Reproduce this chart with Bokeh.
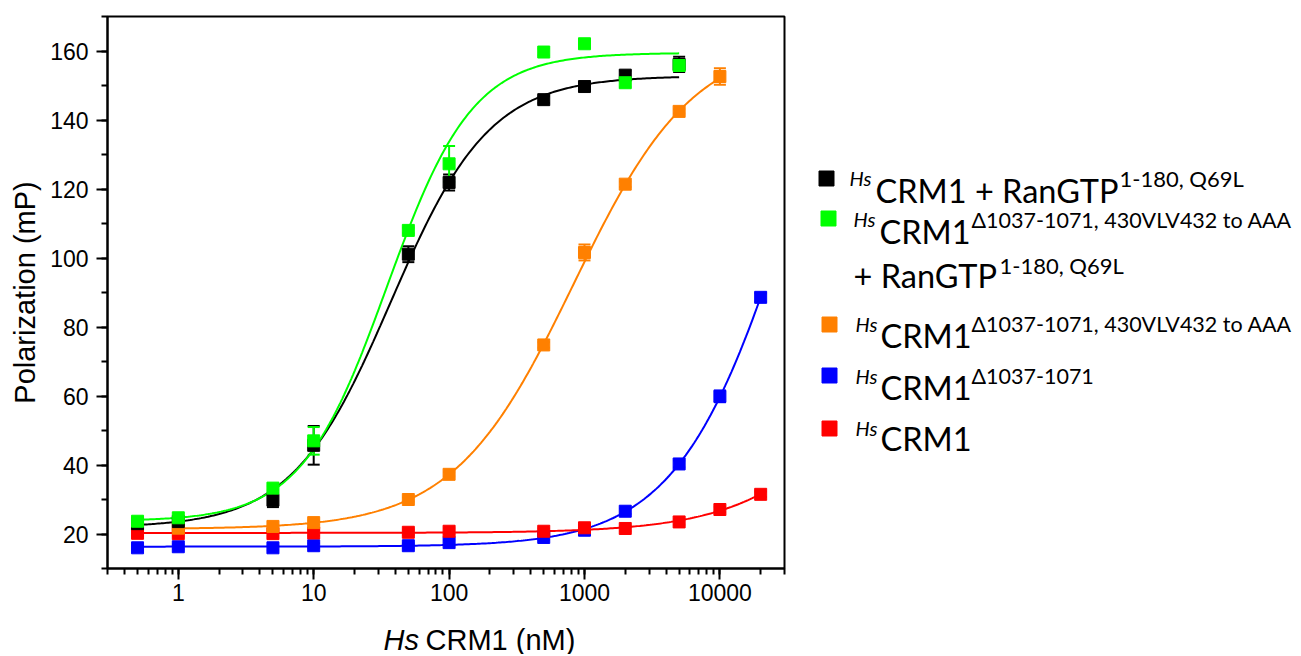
import numpy as np
from bokeh.plotting import figure
from bokeh.models import (Range1d, LogTicker, NumeralTickFormatter, SingleIntervalTicker,
                          Whisker, TeeHead, ColumnDataSource)
from bokeh.layouts import row, column
from bokeh.embed import file_html
from bokeh.resources import INLINE
from bokeh.core.properties import value

# ---------------- data ----------------
black_x = [0.5, 1, 5, 10, 50, 100, 500, 1000, 2000, 5000]
black_y = [23.0, 23.6, 29.8, 45.7, 101.1, 121.9, 145.9, 149.7, 153.0, 156.1]
black_err = [0.8, 0.8, 2.0, 5.6, 2.3, 2.3, 1.0, 1.0, 1.3, 2.2]

green_x = [0.5, 1, 5, 10, 50, 100, 500, 1000, 2000, 5000]
green_y = [23.7, 24.7, 33.3, 47.0, 108.0, 127.3, 159.7, 162.1, 150.8, 155.8]
green_err = [0.5, 0.5, 0.6, 4.0, 0.8, 5.2, 1.0, 1.0, 1.2, 1.5]

orange_x = [1, 5, 10, 50, 100, 500, 1000, 2000, 5000, 10000]
orange_y = [21.7, 22.2, 23.3, 30.0, 37.3, 74.8, 101.6, 121.4, 142.5, 152.6]
orange_err = [0.5, 0.5, 0.6, 0.6, 0.6, 0.8, 2.3, 0.8, 0.6, 2.4]

blue_x = [0.5, 1, 5, 10, 50, 100, 500, 1000, 2000, 5000, 10000, 20000]
blue_y = [16.0, 16.3, 16.0, 16.6, 16.6, 17.5, 19.0, 21.1, 26.6, 40.3, 59.9, 88.6]
blue_err = [0.7, 0.7, 0.7, 0.7, 0.7, 0.7, 0.7, 0.7, 0.8, 1.0, 1.7, 1.2]

red_x = [0.5, 1, 5, 10, 50, 100, 500, 1000, 2000, 5000, 10000, 20000]
red_y = [20.2, 20.1, 20.1, 20.3, 20.5, 20.8, 20.8, 21.8, 21.6, 23.5, 27.1, 31.5]
red_err = [0.8, 0.8, 0.8, 0.8, 0.8, 0.8, 0.8, 0.8, 0.8, 0.8, 0.8, 0.8]

series_names = ["black", "green", "orange", "blue", "red"]
series_colors = ["#000000", "#00FF00", "#FF8000", "#0000FF", "#FF0000"]

y_ticks_interval = 20
x_title_italic = "Hs"
x_title_rest = "CRM1 (nM)"
y_title = "Polarization (mP)"

# legend texts
legend_hs = "Hs"
legend_main = ["CRM1 + RanGTP", "CRM1", "CRM1", "CRM1", "CRM1"]
legend_sup = ["1-180, Q69L", "\u03941037-1071, 430VLV432 to AAA",
              "\u03941037-1071, 430VLV432 to AAA", "\u03941037-1071", ""]
legend_extra_main = "+ RanGTP"
legend_extra_sup = "1-180, Q69L"

data = {
    "black": (black_x, black_y, black_err),
    "green": (green_x, green_y, green_err),
    "orange": (orange_x, orange_y, orange_err),
    "blue": (blue_x, blue_y, blue_err),
    "red": (red_x, red_y, red_err),
}


def fit4pl(x, y, err):
    """Weighted (1/err^2) least-squares 4-parameter logistic fit: grid over
    EC50 & Hill slope, linear solve for bottom / span."""
    lx = np.log10(np.asarray(x, float))
    y = np.asarray(y, float)
    w = 1.0 / np.asarray(err, float) ** 2
    w = w / w.sum()
    lec = np.arange(-1.0, 7.0, 0.01)
    best = None
    for h in np.arange(0.3, 3.0, 0.01):
        s = 1.0 / (1.0 + 10.0 ** (h * (lec[:, None] - lx[None, :])))
        sm = (s * w).sum(1)
        ym = (y * w).sum()
        sc = s - sm[:, None]
        var = (w * sc ** 2).sum(1)
        d = (w * sc * (y - ym)).sum(1) / np.where(var > 0, var, 1.0)
        b = ym - d * sm
        res = (w * (b[:, None] + d[:, None] * s - y) ** 2).sum(1)
        i = int(np.argmin(res))
        if best is None or res[i] < best[0]:
            best = (res[i], b[i], d[i], lec[i], h)
    _, b, d, le, h = best
    xs = np.logspace(lx.min(), lx.max(), 300)
    ys = b + d / (1.0 + 10.0 ** (h * (le - np.log10(xs))))
    return xs, ys


FONT = "Liberation Sans"
W_MAIN, H_MAIN = 800, 612
BL, BR, BT, BB = 107, 16, 16, 44

p = figure(width=W_MAIN, height=H_MAIN, x_axis_type="log", title=None,
           x_range=Range1d(0.3, 30000), y_range=Range1d(10, 170),
           output_backend="svg", toolbar_location=None,
           min_border_left=BL, min_border_right=BR,
           min_border_top=BT, min_border_bottom=BB)
p.xgrid.visible = False
p.ygrid.visible = False
p.outline_line_color = "black"
p.outline_line_width = 2
p.background_fill_color = "white"
p.border_fill_color = "white"

p.xaxis.ticker = LogTicker(num_minor_ticks=10)
p.xaxis.formatter = NumeralTickFormatter(format="0")
p.yaxis.ticker = SingleIntervalTicker(interval=y_ticks_interval, num_minor_ticks=2)
for ax in (p.xaxis[0], p.yaxis[0]):
    ax.axis_line_width = 2
    ax.major_tick_line_width = 2
    ax.minor_tick_line_width = 2
    ax.major_tick_out = 11
    ax.major_tick_in = 0
    ax.minor_tick_out = 6
    ax.minor_tick_in = 0
    ax.major_label_text_font = FONT
    ax.major_label_text_font_size = "23px"
    ax.major_label_text_color = "black"
    ax.axis_label_text_font = FONT
    ax.axis_label_text_font_style = "normal"
    ax.axis_label_text_font_size = "29px"
    ax.axis_label_text_color = "black"
p.yaxis.major_label_standoff = 8
p.xaxis.major_label_standoff = 4
p.yaxis.axis_label = y_title
p.yaxis.axis_label_standoff = 6

# fitted curves
for name, col in zip(series_names, series_colors):
    x, y, e = data[name]
    xs, ys = fit4pl(x, y, e)
    p.line(xs, ys, line_color=col, line_width=2)

# error bars and markers
draw_order = ["blue", "red", "orange", "black", "green"]
for name in draw_order:
    col = series_colors[series_names.index(name)]
    x, y, e = data[name]
    y = np.asarray(y)
    e = np.asarray(e)
    src = ColumnDataSource(dict(x=x, y=y, lo=y - e, hi=y + e))
    wk = Whisker(base="x", upper="hi", lower="lo", source=src, dimension="height",
                 line_color=col, line_width=2,
                 upper_head=TeeHead(size=12, line_color=col, line_width=2),
                 lower_head=TeeHead(size=12, line_color=col, line_width=2))
    p.add_layout(wk)
    p.scatter("x", "y", source=src, marker="square", size=12,
              fill_color=col, line_color=col)

# ---------------- legend panel (data units = page pixels) ----------------
LF = "Lato"
W_LEG = 500
lg = figure(width=W_LEG, height=H_MAIN, title=None,
            x_range=Range1d(W_MAIN, W_MAIN + W_LEG), y_range=Range1d(H_MAIN - BB, BT),
            output_backend="svg", toolbar_location=None,
            min_border_left=0, min_border_right=0, min_border_top=BT, min_border_bottom=BB,
            x_axis_location=None, y_axis_location=None)
lg.grid.visible = False
lg.outline_line_color = None

sq_x = [826, 828, 829, 829, 829]
sq_y = [178, 218, 324, 375, 428]
lg.scatter(sq_x, sq_y, marker="square", size=15, fill_color=series_colors,
           line_color=series_colors)

hs_x = [849, 853, 855, 855, 855]
hs_y = [177, 218, 323, 375, 427]
main_x = [875, 879, 880, 880, 880]
main_y = [190, 231, 335, 387, 438]
sup_x = [1119, 971, 971, 971, 971]
sup_y = [178, 219, 323, 375, 427]
sup_size = ["22px", "21.5px", "21.5px", "21.5px", "21.5px"]

lg.text(hs_x, hs_y, text=[legend_hs] * 5, text_font=value(LF), text_font_style="italic",
        text_font_size="20px", text_baseline="alphabetic", text_color="black")
lg.text(main_x, main_y, text=legend_main, text_font=value(LF),
        text_font_size="32.5px", text_baseline="alphabetic", text_color="black")
lg.text(sup_x, sup_y, text=legend_sup, text_font=value(LF),
        text_font_size=sup_size, text_baseline="alphabetic", text_color="black")
lg.text([853], [275], text=[legend_extra_main], text_font=value(LF),
        text_font_size="32.5px", text_baseline="alphabetic", text_color="black")
lg.text([999], [265], text=[legend_extra_sup], text_font=value(LF),
        text_font_size="22px", text_baseline="alphabetic", text_color="black")

# ---------------- x-axis title strip ----------------
H_T = 42
tf = figure(width=W_MAIN, height=H_T, title=None,
            x_range=Range1d(BL, W_MAIN - BR), y_range=Range1d(H_T, 0),
            output_backend="svg", toolbar_location=None,
            min_border_left=BL, min_border_right=BR, min_border_top=0, min_border_bottom=0,
            x_axis_location=None, y_axis_location=None)
tf.grid.visible = False
tf.outline_line_color = None
tf.text([383], [27], text=[x_title_italic], text_font=value(FONT), text_font_style="italic",
        text_font_size="29px", text_baseline="alphabetic", text_color="black")
tf.text([425], [27], text=[x_title_rest], text_font=value(FONT),
        text_font_size="29px", text_baseline="alphabetic", text_color="black")

layout = column(row(p, lg), tf)
open("out.html", "w").write(file_html(layout, INLINE))
